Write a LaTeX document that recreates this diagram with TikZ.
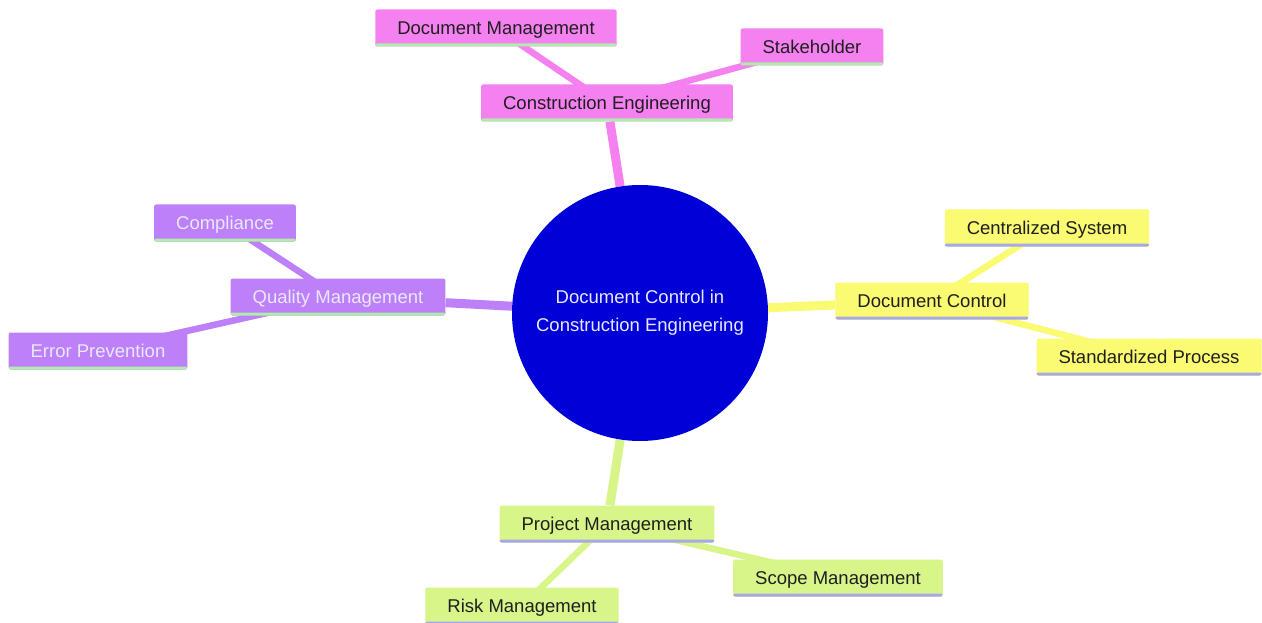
\documentclass[tikz,border=0pt]{standalone}
\usepackage{fontspec}
\setmainfont{Liberation Sans}
\usetikzlibrary{backgrounds}
\definecolor{rootblue}{RGB}{0,0,215}
\definecolor{pinkc}{RGB}{245,128,240}
\definecolor{purplec}{RGB}{190,128,248}
\definecolor{yellowc}{RGB}{250,250,115}
\definecolor{greenc}{RGB}{216,245,138}
\definecolor{lineg}{RGB}{176,236,170}
\definecolor{linel}{RGB}{168,168,232}
\definecolor{lighttext}{RGB}{232,232,255}
\tikzset{
topic/.style 2 args={rectangle, rounded corners=2pt, fill=#1,
  minimum height=37pt, inner xsep=22pt, inner ysep=0pt,
  text height=13pt, text depth=0pt,
  text=black!88, font=\fontsize{18.5}{22}\selectfont,
  path picture={\fill[#2] ([yshift=3pt]path picture bounding box.south west)
    rectangle (path picture bounding box.south east);}},
mainnode/.style={circle, fill=rootblue, minimum size=256pt, inner sep=0pt,
  align=center, text=lighttext, font=\fontsize{18.5}{28}\selectfont},
branch/.style={draw=#1, line width=9pt},
link/.style={draw=#1, line width=6.5pt}
}

\begin{document}
\begin{tikzpicture}[x=1pt,y=-1pt]
\useasboundingbox (0,0) rectangle (1262,623);

\node[mainnode] (root) at (640,313) {Document Control in\\Construction Engineering};

\node[topic={pinkc}{lineg}] (ce) at (607,103) {Construction Engineering};
\node[topic={pinkc}{lineg}] (docm) at (496,28) {Document Management};
\node[topic={pinkc}{lineg}] (stake) at (812,47) {Stakeholder};

\node[topic={purplec}{lineg}, text=lighttext] (qm) at (338,297) {Quality Management};
\node[topic={purplec}{lineg}, text=lighttext] (compl) at (225,223) {Compliance};
\node[topic={purplec}{lineg}, text=lighttext] (errp) at (98,351) {Error Prevention};

\node[topic={yellowc}{linel}] (dc) at (932,301) {Document Control};
\node[topic={yellowc}{linel}] (cent) at (1047,228) {Centralized System};
\node[topic={yellowc}{linel}] (stdp) at (1149,357) {Standardized Process};

\node[topic={greenc}{linel}] (pm) at (607,524) {Project Management};
\node[topic={greenc}{linel}] (scope) at (838,578) {Scope Management};
\node[topic={greenc}{linel}] (risk) at (522,606) {Risk Management};

\begin{pgfonlayer}{background}
\fill[white] (0,0) rectangle (1262,623);
\draw[branch=pinkc] (root) -- (ce);
\draw[branch=purplec] (root) -- (qm);
\draw[branch=yellowc] (root) -- (dc);
\draw[branch=greenc] (root) -- (pm);
\draw[link=pinkc] (ce.center) -- (docm.center);
\draw[link=pinkc] (ce.center) -- (stake.center);
\draw[link=purplec] (qm.center) -- (compl.center);
\draw[link=purplec] (qm.center) -- (errp.center);
\draw[link=yellowc] (dc.center) -- (cent.center);
\draw[link=yellowc] (dc.center) -- (stdp.center);
\draw[link=greenc] (pm.center) -- (scope.center);
\draw[link=greenc] (pm.center) -- (risk.center);
\end{pgfonlayer}
\end{tikzpicture}
\end{document}
